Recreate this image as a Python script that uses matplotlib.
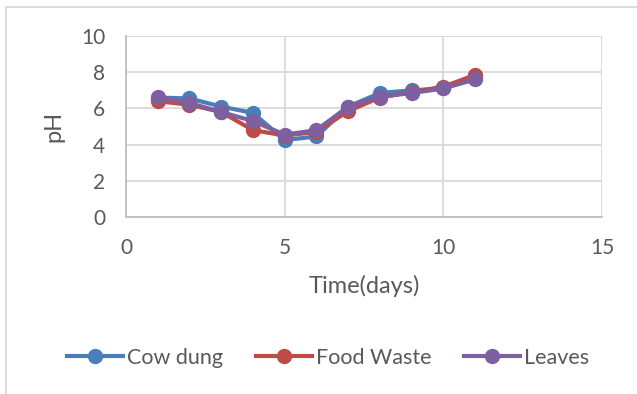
import matplotlib
matplotlib.use('Agg')
import matplotlib.pyplot as plt
from matplotlib.lines import Line2D

# --- Data ---
days = [1, 2, 3, 4, 5, 6, 7, 8, 9, 10, 11]
cow_dung = [6.6, 6.55, 6.1, 5.75, 4.25, 4.45, 6.1, 6.85, 7.0, 7.1, 7.7]
food_waste = [6.4, 6.2, 5.8, 4.8, 4.5, 4.7, 5.85, 6.6, 6.9, 7.2, 7.85]
leaves = [6.65, 6.3, 5.8, 5.3, 4.55, 4.8, 6.1, 6.65, 6.85, 7.1, 7.6]

series_names = ["Cow dung", "Food Waste", "Leaves"]
colors = ["#4a7ebb", "#be4b48", "#7e60a0"]

x_ticks = [0, 5, 10, 15]
y_ticks = [0, 2, 4, 6, 8, 10]

plt.rcParams['font.family'] = ['Lato', 'DejaVu Sans']
TEXT = '#595959'
GRID = '#d9d9d9'

fig = plt.figure(figsize=(6.37, 3.94), dpi=100)
ax = fig.add_axes([126 / 637, 1 - 217 / 394, (602 - 126) / 637, (217 - 36) / 394])

for vals, name, col in zip([cow_dung, food_waste, leaves], series_names, colors):
    ax.plot(days, vals, color=col, lw=3, marker='o', markersize=10,
            label=name, solid_joinstyle='round', clip_on=False)

ax.set_xlim(0, 15)
ax.set_ylim(0, 10)
ax.set_xticks(x_ticks)
ax.set_yticks(y_ticks)
ax.grid(True, color=GRID, lw=1.3)
ax.set_axisbelow(True)
for side in ['top', 'right']:
    ax.spines[side].set_visible(False)
for side in ['left', 'bottom']:
    ax.spines[side].set_color('#bfbfbf')
    ax.spines[side].set_linewidth(1.3)
ax.tick_params(length=0, labelsize=15, labelcolor=TEXT)
ax.tick_params(axis='x', pad=15)
ax.tick_params(axis='y', pad=15)

ax.set_xlabel('Time(days)', fontsize=17, color=TEXT, labelpad=12)
ax.set_ylabel('pH', fontsize=17, color=TEXT, labelpad=12)

handles = [Line2D([0], [0], color=c, lw=3, marker='o', markersize=10) for c in colors]
fig.legend(handles, series_names, loc='center', bbox_to_anchor=(328 / 637, 1 - 358 / 394),
           ncol=3, frameon=False, fontsize=15.5, labelcolor=TEXT,
           handlelength=2.6, handletextpad=0.2, columnspacing=1.5)

# outer chart border (left and top visible in the crop)
fig.add_artist(Line2D([6 / 637, 6 / 637], [0, 1 - 7 / 394], color=GRID, lw=1.3))
fig.add_artist(Line2D([6 / 637, 1], [1 - 7 / 394, 1 - 7 / 394], color=GRID, lw=1.3))

fig.savefig('out.png', dpi=100)
